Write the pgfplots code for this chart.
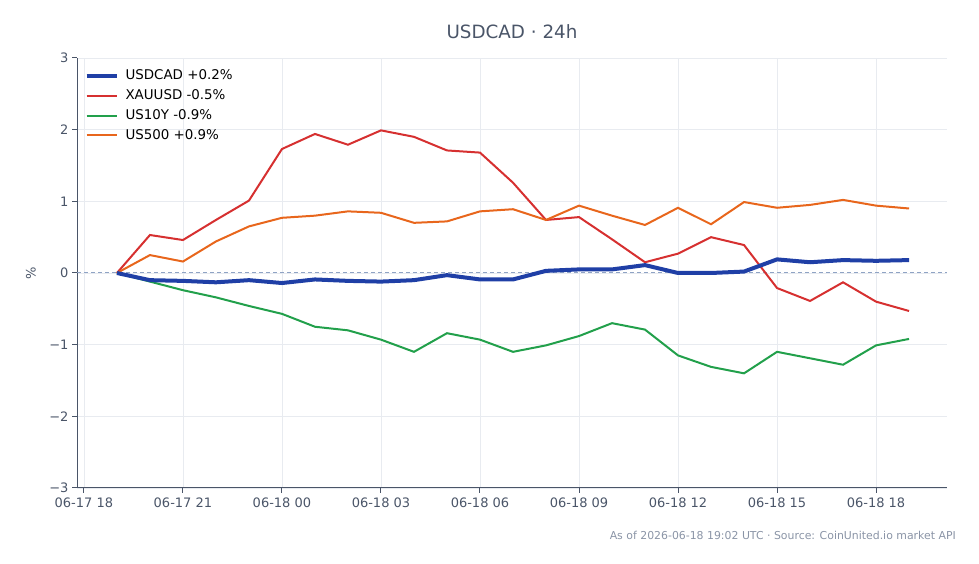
\documentclass[border=0pt]{standalone}
\usepackage{pgfplots}
\pgfplotsset{compat=1.18}
\usepackage{fontspec}
\setmainfont{DejaVu Sans}
\definecolor{txt}{HTML}{4A5568}
\definecolor{axc}{HTML}{4A5568}
\definecolor{gridc}{HTML}{E8EBF0}
\definecolor{cblue}{HTML}{1F3FA6}
\definecolor{cred}{HTML}{D63030}
\definecolor{cgreen}{HTML}{22A04B}
\definecolor{corange}{HTML}{E8661C}
\definecolor{zeroc}{HTML}{8FA3C4}
\definecolor{foot}{HTML}{8A94A6}
\begin{document}
\begin{tikzpicture}
\path[use as bounding box] (0,0) rectangle (979pt,564pt);
\begin{axis}[
  at={(77pt,76pt)}, anchor=south west,
  scale only axis, width=870pt, height=430pt,
  xmin=-0.21, xmax=26.15, ymin=-3, ymax=3,
  axis x line*=bottom, axis y line*=left,
  axis line style={axc, line width=1pt},
  tick align=outside, major tick length=5pt,
  tick style={axc, line width=1pt},
  xtick={0,3,6,9,12,15,18,21,24},
  xticklabels={06-17 18,06-17 21,06-18 00,06-18 03,06-18 06,06-18 09,06-18 12,06-18 15,06-18 18},
  ytick={-3,-2,-1,0,1,2,3},
  yticklabels={−3,−2,−1,0,1,2,3},
  ticklabel style={font=\fontsize{13}{15}\selectfont, text=txt},
  xticklabel style={yshift=-1pt},
  grid=major, major grid style={gridc, line width=0.8pt},
  legend style={at={(rel axis cs:0.005,0.982)}, anchor=north west, draw=none, fill=none,
    font=\fontsize{13.4}{15}\selectfont, text=black, row sep=4.5pt},
  legend cell align=left,
  legend image code/.code={\draw[#1] (0pt,0pt) -- (30pt,0pt); \path (35pt,0pt);},
]
\addlegendimage{cblue, line width=4pt}
\addlegendentry{USDCAD +0.2\%}
\addlegendimage{cred, line width=2pt}
\addlegendentry{XAUUSD -0.5\%}
\addlegendimage{cgreen, line width=2pt}
\addlegendentry{US10Y -0.9\%}
\addlegendimage{corange, line width=2pt}
\addlegendentry{US500 +0.9\%}
\addplot[zeroc, dash pattern=on 4pt off 3pt, line width=1pt, forget plot] coordinates {(-0.21,0) (26.15,0)};
% XAUUSD
\addplot[cred, line width=2pt, forget plot] coordinates {
(1,0) (2,0.53) (3,0.46) (4,0.74) (5,1.01) (6,1.73) (7,1.94) (8,1.79) (9,1.99) (10,1.90)
(11,1.71) (12,1.68) (13,1.26) (14,0.74) (15,0.78) (16,0.47) (17,0.15) (18,0.27) (19,0.50)
(20,0.39) (21,-0.21) (22,-0.39) (23,-0.13) (24,-0.40) (25,-0.53)};
% US10Y
\addplot[cgreen, line width=2pt, forget plot] coordinates {
(1,0) (2,-0.12) (3,-0.24) (4,-0.34) (5,-0.46) (6,-0.57) (7,-0.75) (8,-0.80) (9,-0.93) (10,-1.10)
(11,-0.84) (12,-0.93) (13,-1.10) (14,-1.01) (15,-0.88) (16,-0.70) (17,-0.79) (18,-1.15) (19,-1.31)
(20,-1.40) (21,-1.10) (22,-1.19) (23,-1.28) (24,-1.01) (25,-0.92)};
% US500
\addplot[corange, line width=2pt, forget plot] coordinates {
(1,0) (2,0.25) (3,0.16) (4,0.44) (5,0.65) (6,0.77) (7,0.80) (8,0.86) (9,0.84) (10,0.70)
(11,0.72) (12,0.86) (13,0.89) (14,0.74) (15,0.94) (16,0.80) (17,0.67) (18,0.91) (19,0.68)
(20,0.99) (21,0.91) (22,0.95) (23,1.02) (24,0.94) (25,0.90)};
% USDCAD
\addplot[cblue, line width=4pt, forget plot] coordinates {
(1,0) (2,-0.10) (3,-0.11) (4,-0.13) (5,-0.10) (6,-0.14) (7,-0.09) (8,-0.11) (9,-0.12) (10,-0.10)
(11,-0.03) (12,-0.09) (13,-0.09) (14,0.03) (15,0.05) (16,0.05) (17,0.11) (18,0.00) (19,0.00)
(20,0.02) (21,0.19) (22,0.15) (23,0.18) (24,0.17) (25,0.18)};
\end{axis}
\node[text=txt, font=\fontsize{18.3}{21}\selectfont] at (512pt,532pt) {USDCAD · 24h};
\node[text=txt, font=\fontsize{13}{15}\selectfont, rotate=90] at (31pt,291pt) {\%};
\node[text=foot, font=\fontsize{10.9}{12}\selectfont, anchor=east, inner sep=0pt] at (956pt,29pt) {As of 2026-06-18 19:02 UTC · Source: CoinUnited.io market API};
\end{tikzpicture}
\end{document}
